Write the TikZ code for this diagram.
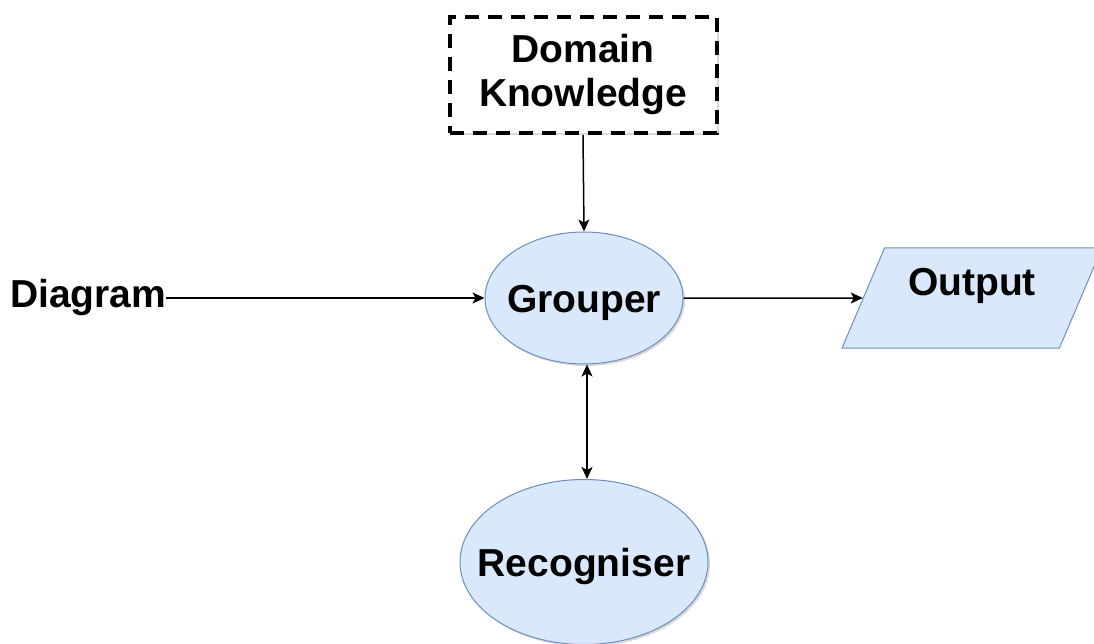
\documentclass[tikz,border=0pt]{standalone}
\usepackage{fontspec}
\setmainfont{Liberation Sans}
\usetikzlibrary{shapes.geometric,arrows.meta,shadows}

\definecolor{procfill}{HTML}{DAE8FC}
\definecolor{procdraw}{HTML}{6C8EBF}

% label set in a zero-width box so an ellipse keeps its given size
\newcommand{\centred}[1]{\makebox[0pt]{#1}}

\tikzset{
  every node/.style={font=\fontsize{39}{44}\selectfont\bfseries},
  soft shadow/.style={drop shadow={opacity=0.25, shadow xshift=2pt, shadow yshift=-2pt, fill=black!60}},
  process/.style={ellipse, draw=procdraw, fill=procfill, line width=1pt, inner sep=0pt,
    text height=28pt, text depth=0pt, soft shadow},
  iobox/.style={trapezium, trapezium left angle=63.4, trapezium right angle=116.6,
    trapezium stretches=true, draw=procdraw, fill=procfill, line width=1pt, inner sep=0pt},
  knowledge/.style={rectangle, draw=black, line width=4pt, dash pattern=on 14pt off 9pt,
    fill=white, align=center, inner sep=0pt, soft shadow},
  flow/.style={line width=1.5pt, -{Stealth[length=12pt,width=11pt,inset=3pt]}},
  bothflow/.style={line width=1.5pt, {Stealth[length=12pt,width=11pt,inset=3pt]}-{Stealth[length=12pt,width=11pt,inset=3pt]}}
}

\begin{document}
\begin{tikzpicture}[x=1pt, y=-1pt]
  \useasboundingbox (0,0) rectangle (1094,644);

  % nodes
  \node[knowledge, minimum width=267pt, minimum height=116pt] (dk) at (583,75) {Domain\\Knowledge};
  \node[process, minimum width=198pt, minimum height=132pt] (grouper) at (584,298) {\centred{Grouper}};
  \node[process, minimum width=248pt, minimum height=165pt] (recog) at (584,562) {\centred{Recogniser}};
  \node[iobox, minimum width=260pt, minimum height=100pt, text height=28pt, text depth=34pt]
    (out) at (972,298) {Output};
  \node[anchor=west, inner sep=0pt] (diag) at (10,298) {Diagram};

  % connectors
  \draw[flow] (dk.south) -- (grouper.north);
  \draw[flow] (diag.east) -- (grouper.west);
  \draw[flow] (grouper.east) -- (out);
  \draw[bothflow] ([xshift=3pt]grouper.south) -- ([xshift=3pt]recog.north);
\end{tikzpicture}
\end{document}
